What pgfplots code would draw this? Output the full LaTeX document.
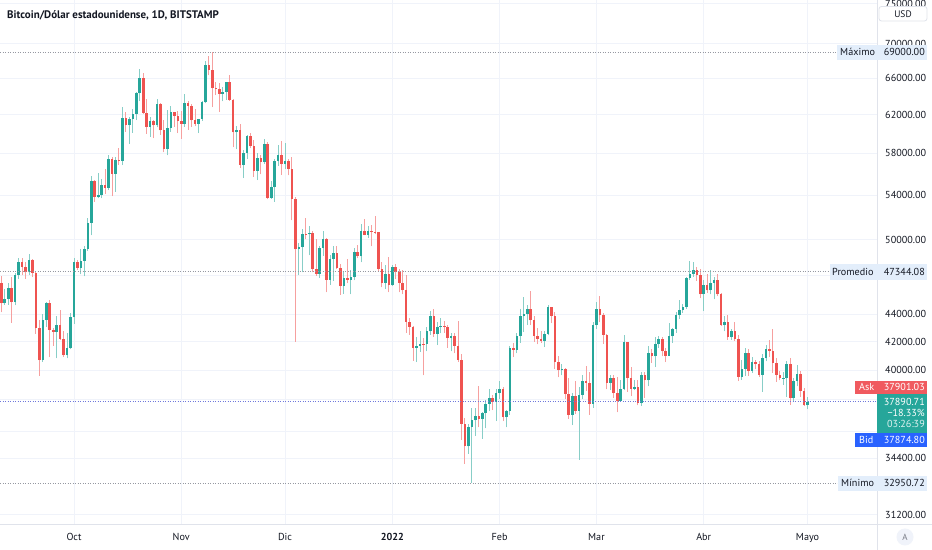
\documentclass[border=0pt]{standalone}
\usepackage{fontspec}
\setmainfont{PT Sans}
\usepackage{pgfplots}
\usepackage{pgfplotstable}
\pgfplotsset{compat=1.18}
\usetikzlibrary{calc}

\definecolor{upc}{HTML}{26A69A}
\definecolor{dnc}{HTML}{EF5350}
\definecolor{gridc}{HTML}{F0F3FA}
\definecolor{divc}{HTML}{E0E3EB}
\definecolor{txtc}{HTML}{131722}
\definecolor{lblc}{HTML}{E3EEFB}
\definecolor{dotc}{HTML}{9598A1}
\definecolor{pricec}{HTML}{6F78DC}
\definecolor{bidc}{HTML}{2962FF}
\definecolor{askc}{HTML}{F05A5F}
\definecolor{circc}{HTML}{F0F3FA}
\definecolor{graytxt}{HTML}{787B86}

\newcommand\lblfont{\fontsize{10.2}{12}\selectfont}

% day index: 1 Sep 2021 = 0 ; columns: day open high low close (USD)
\pgfplotstableread{
d o h l c
8 46060 47360 45520 46400
9 46400 47030 44160 44850
10 44850 45970 44740 45170
11 45170 46450 44750 46030
12 46030 46880 43370 44950
13 44950 47250 44700 47110
14 47110 48450 46750 48140
15 48140 48490 47080 47770
16 47770 48150 46760 47300
17 47300 48800 47100 48310
18 48310 48370 46900 47260
19 47260 47340 42550 43000
20 43000 43620 39600 40690
21 40690 44000 40550 43570
22 43570 44950 43100 44890
23 44890 45100 40900 42830
24 42830 42960 41710 42710
25 42710 43920 40800 43210
26 43210 44350 42100 42170
27 42170 42770 40900 41030
28 41030 42630 40800 41540
29 41540 44130 41440 43790
30 43790 48450 43300 48170
31 48170 48340 47450 47660
32 47660 49240 47130 48230
33 48230 49500 46960 49230
34 49230 51890 49050 51490
35 51490 55750 50400 55340
36 55340 55400 53400 53800
37 53800 56100 53700 53970
38 53970 55480 53700 54960
39 54960 56500 54100 54700
40 54700 57800 54450 57480
41 57480 57680 53900 56000
42 56000 57600 54300 57370
43 57370 58500 56900 57250
44 57250 62850 56850 61670
45 61670 62300 60200 60880
46 60880 61700 58950 61530
47 61530 62600 60100 62030
48 62030 64400 61400 64280
49 64280 67000 63500 66000
50 66000 66600 62100 62210
51 62210 63700 60000 60690
52 60690 61750 59700 61300
53 61300 61450 59550 60860
54 60860 63700 60650 63080
55 63080 63290 59900 60330
56 60330 61450 58100 58460
57 58460 62450 57800 60590
58 60590 62950 60200 62270
59 62270 62300 60700 61860
60 61860 62400 60050 61320
61 61320 62400 59500 61000
62 61000 64250 60700 63240
63 63240 63500 60400 62940
64 62940 63100 60700 61390
65 61390 62600 60750 61010
66 61010 61550 60050 61530
67 61530 63450 61330 63300
68 63300 68000 63200 67550
69 67550 68500 66300 66950
70 66950 69000 62800 64880
71 64880 65600 64100 64820
72 64820 65450 62300 64220
73 64220 65000 63400 64420
74 64420 65550 63600 65500
75 65500 66300 63450 63600
76 63600 63650 58600 60130
77 60130 60800 58400 60360
78 60360 60950 56600 56880
79 56880 58300 55600 58080
80 58080 59850 57450 59730
81 59730 60050 58500 58710
82 58710 59300 55700 56290
83 56290 58000 55400 57570
84 57570 57850 55950 57170
85 57170 59400 57000 58940
86 58940 59150 53600 53730
87 53730 55300 53650 54730
88 54730 57400 53400 57270
89 57270 58850 56800 57800
90 57800 59200 55900 56950
91 56950 59050 56500 57200
92 57200 57400 55850 56500
93 56500 57600 51700 53600
94 53600 53850 42000 49200
95 49200 49700 47100 49380
96 49380 50950 47300 50550
97 50550 51900 50050 50480
98 50480 51200 48700 50580
99 50580 50750 47300 47600
100 47600 50100 47000 47150
101 47150 49500 46850 49350
102 49350 50750 48650 50100
103 50100 50200 45700 46700
104 46700 48700 46300 48370
105 48370 49500 46600 48880
106 48880 49450 47550 47650
107 47650 47950 45500 46200
108 46200 47300 45600 46850
109 46850 48350 46400 46700
110 46700 47500 45550 46900
111 46900 49300 46650 48950
112 48950 49600 48450 48600
113 48600 51350 48100 50800
114 50800 51850 50400 50450
115 50450 51200 50200 50800
116 50800 51300 49450 50700
117 50700 52050 50500 50650
118 50650 50700 47400 47550
119 47550 48100 46100 46450
120 46450 47900 45950 47150
121 47150 48550 45700 46250
122 46250 47900 46200 47750
123 47750 47950 46750 47300
124 47300 47550 45700 46450
125 46450 47500 45550 45850
126 45850 47050 42650 43450
127 43450 43750 42500 43100
128 43100 43150 40650 41550
129 41550 42300 40550 41700
130 41700 42800 41250 41850
131 41850 42250 39650 41820
132 41820 43100 41300 42750
133 42750 44300 42500 43900
134 43900 44400 42350 42580
135 42580 43450 41750 43100
136 43100 43750 42600 43170
137 43170 43500 42650 43100
138 43100 43200 41550 42250
139 42250 42650 41300 42400
140 42400 42600 41150 41700
141 41700 43500 40550 40700
142 40700 41100 35500 36500
143 36500 36850 34050 35100
144 35100 36500 34650 36300
145 36300 37500 32950.72 36700
146 36700 37500 35750 36950
147 36950 38950 36250 36800
148 36800 37200 35550 37150
149 37150 38000 36200 37750
150 37750 38700 37300 38150
151 38150 38350 37350 37900
152 37900 38750 36650 38450
153 38450 39250 38050 38700
154 38700 38850 36650 36900
155 36900 37350 36250 37300
156 37300 41700 37050 41550
157 41550 41900 40900 41400
158 41400 42650 41150 42400
159 42400 44450 41900 43850
160 43850 45300 42700 44050
161 44050 44750 43200 44400
162 44400 45800 43200 43550
163 43550 43900 42000 42400
164 42400 43000 41800 42200
165 42200 42750 41900 42050
166 42050 42800 41600 42550
167 42550 44700 42450 44550
168 44550 44600 43350 43900
169 43900 44200 40100 40550
170 40550 40950 39500 40000
171 40000 40450 39650 40100
172 40100 40150 38050 38400
173 38400 39450 36800 37050
174 37050 38450 36400 38250
175 38250 39250 37100 37300
176 37300 38850 34300 38350
177 38350 39700 38050 39250
178 39250 40300 38600 39150
179 39150 39850 37050 37750
180 37750 43400 37500 43200
181 43200 44950 42900 44450
182 44450 45400 43400 43950
183 43950 44100 41850 42500
184 42500 42550 38700 39150
185 39150 39650 38650 39450
186 39450 39650 38150 38450
187 38450 39550 37200 37950
188 37950 39350 37900 38750
189 38750 42500 38650 41950
190 41950 42000 38550 39450
191 39450 40200 38250 38750
192 38750 39350 38650 38850
193 38850 39300 37650 37800
194 37800 39900 37600 39700
195 39700 39900 38150 39300
196 39300 41700 38900 41150
197 41150 41500 40500 40950
198 40950 42300 40200 41800
199 41800 42400 41550 42200
200 42200 42300 40950 41300
201 41300 41550 40550 41000
202 41000 43350 40950 42400
203 42400 43000 41900 42900
204 42900 44200 42650 43950
205 43950 45100 43650 44350
206 44350 44800 44100 44550
207 44550 46900 44450 46850
208 46850 48200 46700 47150
209 47150 48100 46950 47450
210 47450 47700 46600 47100
211 47100 47600 45250 45550
212 45550 46700 44250 46300
213 46300 47200 45650 45850
214 45850 47450 45550 46450
215 46450 46900 45150 46650
216 46650 47200 45400 45550
217 45550 45650 43150 43200
218 43200 43900 42750 43450
219 43450 43950 42150 42300
220 42300 42950 42150 42800
221 42800 43450 42050 42200
222 42200 42450 39250 39550
223 39550 40700 39350 40100
224 40100 41550 39600 41150
225 41150 41500 39600 39950
226 39950 40900 39800 40550
227 40550 40700 40050 40400
228 40400 40650 39550 39700
229 39700 41100 38550 40800
230 40800 41750 40600 41500
231 41500 42150 40900 41350
232 41350 42950 39800 40500
233 40500 40800 39200 39700
234 39700 39950 39300 39450
235 39450 39900 39000 39470
236 39470 40600 38200 40450
237 40450 40800 37700 38100
238 38100 39450 37900 39250
239 39250 40350 38900 39750
240 39750 39950 38200 38600
241 38600 38800 37600 37650
242 37650 38200 37400 37890.71
}\btc

\begin{document}
\begin{tikzpicture}[x=1bp,y=1bp]
\path[use as bounding box] (0,-25) rectangle (932,525);
\fill[white] (0,-25) rectangle (932,525);
\begin{axis}[
  at={(0,0)}, anchor=south west,
  scale only axis, width=877bp, height=525bp,
  ymode=log,
  xmin=8.613, xmax=262.08,
  ymin=30670, ymax=75470,
  axis line style={draw=none},
  major tick length=0pt, minor tick length=0pt,
  xtick={30,61,91,122,153,181,212,242},
  xticklabels={Oct,Nov,Dic,\textbf{2022},Feb,Mar,Abr,Mayo},
  ytick={31200,34400,36000,38000,40000,42000,44000,47000,50000,54000,58000,62000,66000,70000,75000},
  yticklabels={31200.00,34400.00,{},{},40000.00,42000.00,44000.00,{},50000.00,54000.00,58000.00,62000.00,66000.00,70000.00,75000.00},
  yticklabel pos=right,
  xmajorgrids, ymajorgrids,
  grid style={draw=gridc, line width=1bp},
  ticklabel style={font=\lblfont, text=txtc, inner sep=0pt, text height=7bp, text depth=0pt},
  yticklabel style={anchor=west},
  yticklabel shift=8bp,
  xticklabel style={anchor=north},
  xticklabel shift=8.5bp,
]
% wicks
\addplot[draw=none, mark=none, forget plot,
  restrict expr to domain={\thisrow{c}-\thisrow{o}}{0:1000000},
  error bars/.cd, y dir=plus, y explicit, error mark=none,
  error bar style={draw=upc!55!white, line width=1bp}]
  table[x=d, y=l, y error plus expr=\thisrow{h}-\thisrow{l}] {\btc};
\addplot[draw=none, mark=none, forget plot,
  restrict expr to domain={\thisrow{c}-\thisrow{o}}{-1000000:0},
  error bars/.cd, y dir=plus, y explicit, error mark=none,
  error bar style={draw=dnc!55!white, line width=1bp}]
  table[x=d, y=l, y error plus expr=\thisrow{h}-\thisrow{l}] {\btc};
% bodies
\addplot[draw=none, mark=none, forget plot,
  restrict expr to domain={\thisrow{c}-\thisrow{o}}{0:1000000},
  error bars/.cd, y dir=plus, y explicit, error mark=none,
  error bar style={draw=upc, line width=2.6bp}]
  table[x=d, y=o, y error plus expr=\thisrow{c}-\thisrow{o}] {\btc};
\addplot[draw=none, mark=none, forget plot,
  restrict expr to domain={\thisrow{c}-\thisrow{o}}{-1000000:0},
  error bars/.cd, y dir=plus, y explicit, error mark=none,
  error bar style={draw=dnc, line width=2.6bp}]
  table[x=d, y=c, y error plus expr=\thisrow{o}-\thisrow{c}] {\btc};
% reference lines
\addplot[dotc, line width=0.9bp, dash pattern=on 1bp off 1.5bp, forget plot] coordinates {(8.613,69000) (262.08,69000)};
\addplot[dotc, line width=0.9bp, dash pattern=on 1bp off 1.5bp, forget plot] coordinates {(8.613,47344.08) (262.08,47344.08)};
\addplot[dotc, line width=0.9bp, dash pattern=on 1bp off 1.5bp, forget plot] coordinates {(8.613,32950.72) (262.08,32950.72)};
\addplot[pricec, line width=1bp, dash pattern=on 1bp off 1.5bp, forget plot] coordinates {(8.613,37890.71) (262.08,37890.71)};
\coordinate (pmax) at (axis cs:100,69000);
\coordinate (pavg) at (axis cs:100,47344.08);
\coordinate (pmin) at (axis cs:100,32950.72);
\coordinate (pcur) at (axis cs:100,37890.71);
\end{axis}
% dividers
\draw[divc, line width=1bp] (877,-25) -- (877,525);
\draw[divc, line width=1bp] (0,0) -- (932,0);
% title
\node[anchor=base west, inner sep=0pt, text=txtc, font=\fontsize{11}{13}\selectfont\bfseries] at (7,506.5) {Bitcoin/Dólar estadounidense, 1D, BITSTAMP};
% USD box
\draw[divc, fill=white, rounded corners=2.5bp, line width=0.8bp] (879,504) rectangle (927,518.5);
\node[inner sep=0pt, text=txtc, font=\fontsize{9.5}{11}\selectfont] at (903,511.2) {USD};
% side labels
\tikzset{lb/.style={inner sep=0pt, text height=7bp, text depth=0pt, font=\lblfont}}
\fill[lblc] let \p1=(pmax) in (837bp,\y1-7.5bp) rectangle (927bp,\y1+7.5bp);
\path let \p1=(pmax) in node[lb, anchor=west, text=txtc] at (840bp,\y1) {Máximo} node[lb, anchor=east, text=txtc] at (925bp,\y1) {69000.00};
\fill[lblc] let \p1=(pavg) in (830bp,\y1-8bp) rectangle (927bp,\y1+8bp);
\path let \p1=(pavg) in node[lb, anchor=west, text=txtc] at (832bp,\y1) {Promedio} node[lb, anchor=east, text=txtc] at (925bp,\y1) {47344.08};
\fill[lblc] let \p1=(pmin) in (838bp,\y1-7.5bp) rectangle (927bp,\y1+7.5bp);
\path let \p1=(pmin) in node[lb, anchor=west, text=txtc] at (841bp,\y1) {Mínimo} node[lb, anchor=east, text=txtc] at (925bp,\y1) {32950.72};
% ask / price / bid
\fill[askc] let \p1=(pcur) in (855bp,\y1+7.7bp) rectangle (927bp,\y1+21bp);
\path let \p1=(pcur) in node[lb, anchor=west, text=white] at (859bp,\y1+14.3bp) {Ask} node[lb, anchor=east, text=white] at (925bp,\y1+14.3bp) {37901.03};
\fill[upc] let \p1=(pcur) in (877bp,\y1-31.5bp) rectangle (927bp,\y1+7.7bp);
\path let \p1=(pcur) in node[lb, anchor=east, text=white] at (925bp,\y1-0.6bp) {37890.71}
  node[lb, anchor=east, text=white] at (925bp,\y1-11.6bp) {−18.33\%}
  node[lb, anchor=east, text=white!85!upc] at (925bp,\y1-22.4bp) {03:26:39};
\fill[bidc] let \p1=(pcur) in (855bp,\y1-45.5bp) rectangle (927bp,\y1-31.5bp);
\path let \p1=(pcur) in node[lb, anchor=west, text=white] at (859bp,\y1-38.5bp) {Bid} node[lb, anchor=east, text=white] at (925bp,\y1-38.5bp) {37874.80};
% auto-scale button
\fill[circc] (905,-12) circle (8.5);
\node[inner sep=0pt, text=graytxt, font=\fontsize{9}{10}\selectfont] at (905,-12) {A};
\end{tikzpicture}
\end{document}
